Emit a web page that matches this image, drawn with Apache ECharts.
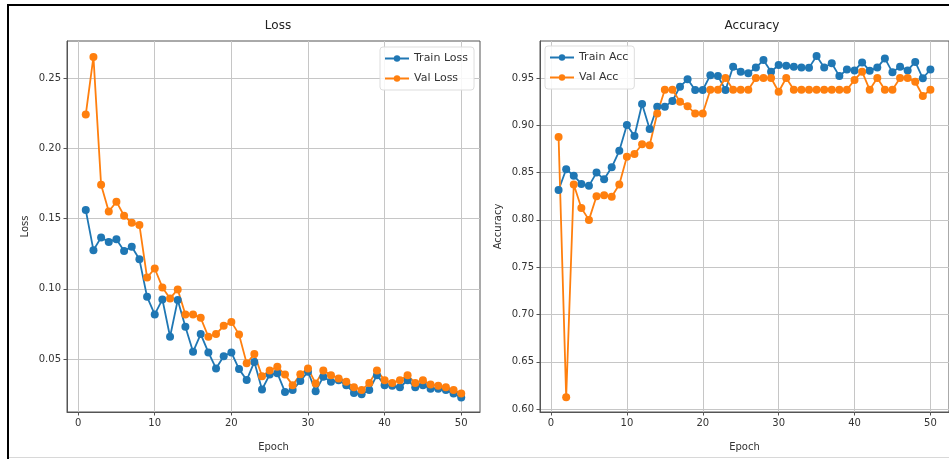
<!DOCTYPE html>
<html>
<head>
<meta charset="utf-8">
<script src="https://cdn.jsdelivr.net/npm/echarts@6/dist/echarts.min.js"></script>
<style>html,body{margin:0;padding:0;background:#fff}#c{width:949px;height:459px}</style>
</head>
<body>
<div id="c"></div>
<script>
const epochs = Array.from({length: 50}, (_, i) => i + 1);
const xTicks = [0, 10, 20, 30, 40, 50];
const lossTicks = [0.05, 0.10, 0.15, 0.20, 0.25];
const accTicks = [0.60, 0.65, 0.70, 0.75, 0.80, 0.85, 0.90, 0.95];

const trainLoss = [0.156, 0.1275, 0.1366, 0.1334, 0.1353, 0.127, 0.130, 0.121, 0.0943, 0.0818,
  0.0925, 0.0659, 0.092, 0.073, 0.0552, 0.0678, 0.0548, 0.0434, 0.0521, 0.0548,
  0.0429, 0.0351, 0.048, 0.0284, 0.039, 0.040, 0.0267, 0.028, 0.0344, 0.041,
  0.0272, 0.0374, 0.0339, 0.035, 0.0315, 0.026, 0.025, 0.028, 0.0386, 0.0315,
  0.031, 0.030, 0.035, 0.030, 0.0315, 0.029, 0.029, 0.028, 0.0255, 0.0227];
const valLoss = [0.224, 0.265, 0.174, 0.155, 0.162, 0.152, 0.147, 0.1455, 0.108, 0.1145,
  0.101, 0.0932, 0.0996, 0.0818, 0.0818, 0.0794, 0.0659, 0.0678, 0.0737, 0.0765,
  0.0676, 0.047, 0.0536, 0.0379, 0.042, 0.0445, 0.039, 0.0315, 0.0393, 0.0434,
  0.0327, 0.042, 0.0386, 0.0363, 0.034, 0.030, 0.028, 0.033, 0.042, 0.035,
  0.033, 0.035, 0.0386, 0.033, 0.035, 0.032, 0.031, 0.030, 0.028, 0.0255];
const trainAcc = [0.8316, 0.8535, 0.8467, 0.838, 0.836, 0.85, 0.843, 0.8556, 0.873, 0.9003,
  0.8887, 0.9225, 0.896, 0.9197, 0.9197, 0.9257, 0.9408, 0.9486, 0.9373, 0.9373,
  0.953, 0.952, 0.9373, 0.962, 0.9567, 0.955, 0.961, 0.969, 0.9567, 0.9637,
  0.963, 0.962, 0.961, 0.9607, 0.9732, 0.961, 0.9655, 0.952, 0.959, 0.958,
  0.9665, 0.9577, 0.961, 0.9707, 0.956, 0.962, 0.958, 0.967, 0.9497, 0.959];
const valAcc = [0.8875, 0.6125, 0.8375, 0.8125, 0.80, 0.825, 0.826, 0.8245, 0.8375, 0.8668,
  0.8697, 0.88, 0.879, 0.9125, 0.9375, 0.9375, 0.925, 0.92, 0.9125, 0.9125,
  0.9375, 0.9375, 0.95, 0.9375, 0.9375, 0.9375, 0.95, 0.95, 0.95, 0.9355,
  0.95, 0.9375, 0.9375, 0.9375, 0.9375, 0.9375, 0.9375, 0.9375, 0.9375, 0.948,
  0.9567, 0.9375, 0.95, 0.9375, 0.9375, 0.95, 0.95, 0.946, 0.931, 0.9375];

const FONT = 'DejaVu Sans';
const BLUE = '#1f77b4', ORANGE = '#ff7f0e';
const pair = arr => epochs.map((e, i) => [e, arr[i]]);

function xAxis(gi) {
  return {
    type: 'value', gridIndex: gi, min: -1.45, max: 52.45,
    name: 'Epoch', nameLocation: 'middle', nameGap: 30,
    nameTextStyle: {fontFamily: FONT, fontSize: 10, color: '#333'},
    axisLine: {show: true, onZero: false, lineStyle: {color: '#555', width: 1}},
    axisTick: {show: true, length: 3.5, customValues: xTicks, lineStyle: {color: '#555'}},
    axisLabel: {customValues: xTicks, fontFamily: FONT, fontSize: 10, color: '#333', margin: 6},
    splitLine: {show: true, lineStyle: {color: '#c6c6c6', width: 1}}
  };
}
function yAxis(gi, min, max, ticks, name, gap) {
  return {
    type: 'value', gridIndex: gi, min: min, max: max,
    name: name, nameLocation: 'middle', nameGap: gap, nameRotate: 90,
    nameTextStyle: {fontFamily: FONT, fontSize: 10, color: '#333'},
    axisLine: {show: true, onZero: false, lineStyle: {color: '#555', width: 1}},
    axisTick: {show: true, length: 3.5, customValues: ticks, lineStyle: {color: '#555'}},
    axisLabel: {customValues: ticks, fontFamily: FONT, fontSize: 10, color: '#333', margin: 6,
      formatter: v => v.toFixed(2)},
    splitLine: {show: true, lineStyle: {color: '#c6c6c6', width: 1}}
  };
}
function series(name, data, color, xi) {
  return {
    type: 'line', name: name, data: pair(data), xAxisIndex: xi, yAxisIndex: xi,
    symbol: 'circle', symbolSize: 8, showAllSymbol: true,
    lineStyle: {color: color, width: 1.8}, itemStyle: {color: color},
    emphasis: {disabled: true}
  };
}
function legend(data, pos) {
  return Object.assign({
    data: data, orient: 'vertical', itemWidth: 24, itemHeight: 8, itemGap: 9,
    padding: [6, 6, 6, 4], backgroundColor: 'rgba(255,255,255,0.85)',
    borderColor: '#dddddd', borderWidth: 1, borderRadius: 3,
    textStyle: {fontFamily: FONT, fontSize: 11, color: '#333'}
  }, pos);
}

const chart = echarts.init(document.getElementById('c'), null, {renderer: 'canvas'});
chart.setOption({
  animation: false,
  backgroundColor: '#fff',
  title: [
    {text: 'Loss', left: 273, top: 15, textAlign: 'center',
      textStyle: {fontFamily: FONT, fontSize: 12, fontWeight: 'normal', color: '#222'}},
    {text: 'Accuracy', left: 747, top: 15, textAlign: 'center',
      textStyle: {fontFamily: FONT, fontSize: 12, fontWeight: 'normal', color: '#222'}}
  ],
  legend: [
    legend(['Train Loss', 'Val Loss'], {left: 380, top: 47}),
    legend(['Train Acc', 'Val Acc'], {left: 545, top: 46})
  ],
  grid: [
    {left: 67, top: 41, width: 413, height: 371, show: true, borderColor: '#555', borderWidth: 1},
    {left: 540, top: 41, width: 414, height: 371, show: true, borderColor: '#555', borderWidth: 1}
  ],
  xAxis: [xAxis(0), xAxis(1)],
  yAxis: [
    yAxis(0, 0.0124, 0.2763, lossTicks, 'Loss', 37),
    yAxis(1, 0.5969, 0.9891, accTicks, 'Accuracy', 37)
  ],
  series: [
    series('Train Loss', trainLoss, BLUE, 0),
    series('Val Loss', valLoss, ORANGE, 0),
    series('Train Acc', trainAcc, BLUE, 1),
    series('Val Acc', valAcc, ORANGE, 1)
  ],
  graphic: [
    {type: 'rect', shape: {x: 7, y: 4, width: 2, height: 455}, style: {fill: '#000'}, silent: true},
    {type: 'rect', shape: {x: 7, y: 4, width: 942, height: 2}, style: {fill: '#000'}, silent: true},
    {type: 'rect', shape: {x: 9, y: 457, width: 940, height: 1}, style: {fill: '#d8d8d8'}, silent: true}
  ]
});
</script>
</body>
</html>
